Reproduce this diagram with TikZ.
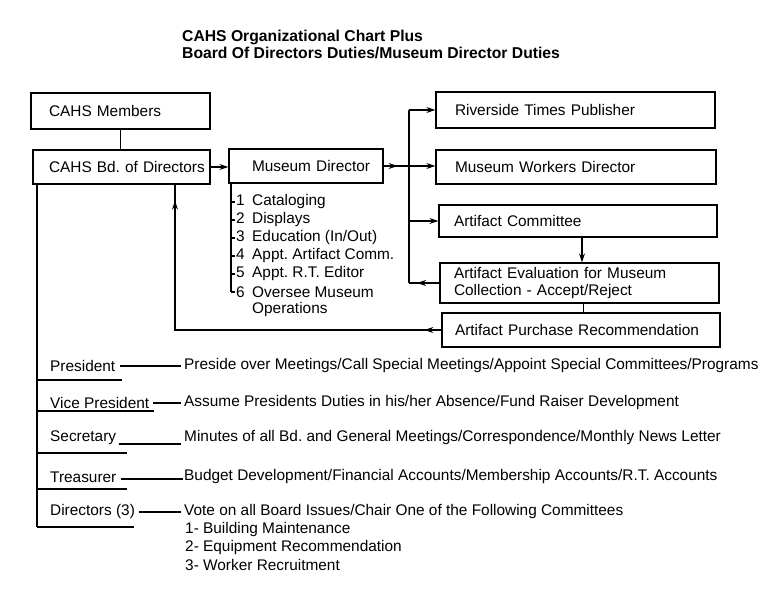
\documentclass[tikz,border=0pt]{standalone}
\usepackage{fontspec}
\setmainfont{Liberation Sans}
\usetikzlibrary{arrows.meta,decorations.markings,calc}
\frenchspacing
\begin{document}
\begin{tikzpicture}[x=1pt,y=-1pt,
  every node/.style={font=\fontsize{15.4}{17}\selectfont},
  lw/.style={line width=1.2pt},
  box/.style={draw, line width=1.2pt, align=left, inner ysep=0pt},
  txt/.style={inner xsep=0pt, inner ysep=1pt, anchor=west},
  tip/.style={-{Stealth[length=9pt,width=6pt]}},
  markfwd/.style={postaction={decorate}, decoration={markings, mark=at position #1 with {\arrow{Stealth[length=9pt,width=6pt]}}}},
  markback/.style={postaction={decorate}, decoration={markings, mark=at position #1 with {\arrowreversed{Stealth[length=9pt,width=6pt]}}}},
  twomarks/.style={postaction={decorate}, decoration={markings,
      mark=at position 17pt with {\arrow{Stealth[length=9pt,width=6pt]}},
      mark=at position 0.961 with {\arrow{Stealth[length=9pt,width=6pt]}}}},
]
\useasboundingbox (0,0) rectangle (782,600);

% title
\node[anchor=north west, inner sep=0pt, align=left, font=\fontsize{15.7}{17}\selectfont\bfseries] (title) at (182,30)
  {CAHS Organizational Chart Plus\\Board Of Directors Duties/Museum Director Duties};

% boxes
\node[box, text width=143pt, inner xsep=18pt, minimum height=36pt] (mem) at (120.5,111) {\mbox{CAHS Members}};
\node[box, text width=145pt, inner xsep=16pt, minimum height=34pt] (bd) at (121.5,167) {\mbox{CAHS Bd. of Directors}};
\node[box, text width=108pt, inner xsep=23pt, minimum height=34pt] (md) at (306,166) {\mbox{Museum Director}};
\node[box, text width=241pt, inner xsep=19pt, minimum height=36pt] (rtp) at (575.5,110) {\mbox{Riverside Times Publisher}};
\node[box, text width=242pt, inner xsep=19pt, minimum height=34pt] (mwd) at (576,167) {\mbox{Museum Workers Director}};
\node[box, text width=248pt, inner xsep=15pt, minimum height=32pt] (ac) at (578,221) {\mbox{Artifact Committee}};
\node[box, text width=251pt, inner xsep=14pt, minimum height=40pt] (ae) at (579.5,283) {Artifact Evaluation for Museum\\Collection - Accept/Reject};
\node[box, text width=252pt, inner xsep=13pt, minimum height=34pt] (apr) at (581,330) {\mbox{Artifact Purchase Recommendation}};

% museum director list
\node[txt] (li1) at (236,202) {\makebox[16pt][l]{1}Cataloging};
\node[txt] (li2) at (236,220) {\makebox[16pt][l]{2}Displays};
\node[txt] (li3) at (236,238) {\makebox[16pt][l]{3}Education (In/Out)};
\node[txt] (li4) at (236,256) {\makebox[16pt][l]{4}Appt. Artifact Comm.};
\node[txt] (li5) at (236,274) {\makebox[16pt][l]{5}Appt. R.T. Editor};
\node[txt] (li6) at (236,292) {\makebox[16pt][l]{6}Oversee Museum};
\node[txt] (li6b) at (252,310) {Operations};
\coordinate (ML) at (231,0);
\draw[lw] (ML |- md.south) -- (ML |- li6.west);
\foreach \n in {li1,li2,li3,li4,li5,li6}{\draw[lw] (ML |- \n.west) -- ([xshift=-1pt]\n.west);}

% connectors top
\coordinate (T) at (409,0);
\coordinate (U) at (175,0);
\draw[lw] (mem.south) -- (mem.south |- bd.north);
\draw[lw,tip] (bd.east) -- (bd.east -| md.west);
\draw[lw,tip,markfwd=14pt] (md.east) -- (md.east -| mwd.west);
\draw[lw] (T |- rtp.west) -- (T |- ae.west);
\draw[lw,tip] (T |- rtp.west) -- (rtp.west);
\draw[lw,tip] (T |- ac.west) -- (ac.west);
\draw[lw,markback=8pt] (T |- ae.west) -- (ae.west);
\draw[lw,tip] ([xshift=4pt]ac.south) -- ([xshift=4pt]ac.south |- ae.north);
\draw[lw] ([xshift=4pt]ae.south) -- ([xshift=4pt]ae.south |- apr.north);
\draw[lw,twomarks] (apr.west) -- (U |- apr.west) -- (U |- bd.south);

% officers
\coordinate (L) at (37,0);
\draw[lw] (L |- bd.south) -- (37,527);

\node[txt] (pres) at (50,366) {President};
\node[txt] (vp) at (50,403) {Vice President};
\node[txt] (sec) at (50,438) {Secretary};
\node[txt] (tre) at (50,477) {Treasurer};
\node[txt] (dir) at (50,512) {Directors (3)};

\node[txt] (presD) at (184,366) {Preside over Meetings/Call Special Meetings/Appoint Special Committees/Programs};
\node[txt] (vpD) at (184,403) {Assume Presidents Duties in his/her Absence/Fund Raiser Development};
\node[txt] (secD) at (184,438) {Minutes of all Bd. and General Meetings/Correspondence/Monthly News Letter};
\node[txt] (treD) at (184,477) {Budget Development/Financial Accounts/Membership Accounts/R.T. Accounts};
\node[txt] (dirD) at (184,512) {Vote on all Board Issues/Chair One of the Following Committees};
\node[txt] (d1) at (185,530) {1- Building Maintenance};
\node[txt] (d2) at (185,548) {2- Equipment Recommendation};
\node[txt] (d3) at (185,565) {3- Worker Recruitment};

% underlines
\draw[lw] (37,380) -- (122,380);
\draw[lw] (37,411) -- (154,411);
\draw[lw] (37,453) -- (127,453);
\draw[lw] (37,489) -- (127,489);
\draw[lw] (37,527) -- (134,527);

% leader lines
\draw[lw] ([xshift=5pt]pres.east) -- ([xshift=-3pt]presD.west);
\draw[lw] ([xshift=4pt]vp.east) -- ([xshift=-3pt]vpD.west);
\draw[lw] ([xshift=3pt,yshift=-6pt]sec.east) -- ([xshift=-3pt,yshift=-6pt]secD.west);
\draw[lw] ([xshift=4pt,yshift=-2pt]tre.east) -- ([xshift=-1pt,yshift=-2pt]treD.west);
\draw[lw] ([xshift=4pt]dir.east) -- ([xshift=-3pt]dirD.west);
\end{tikzpicture}
\end{document}
